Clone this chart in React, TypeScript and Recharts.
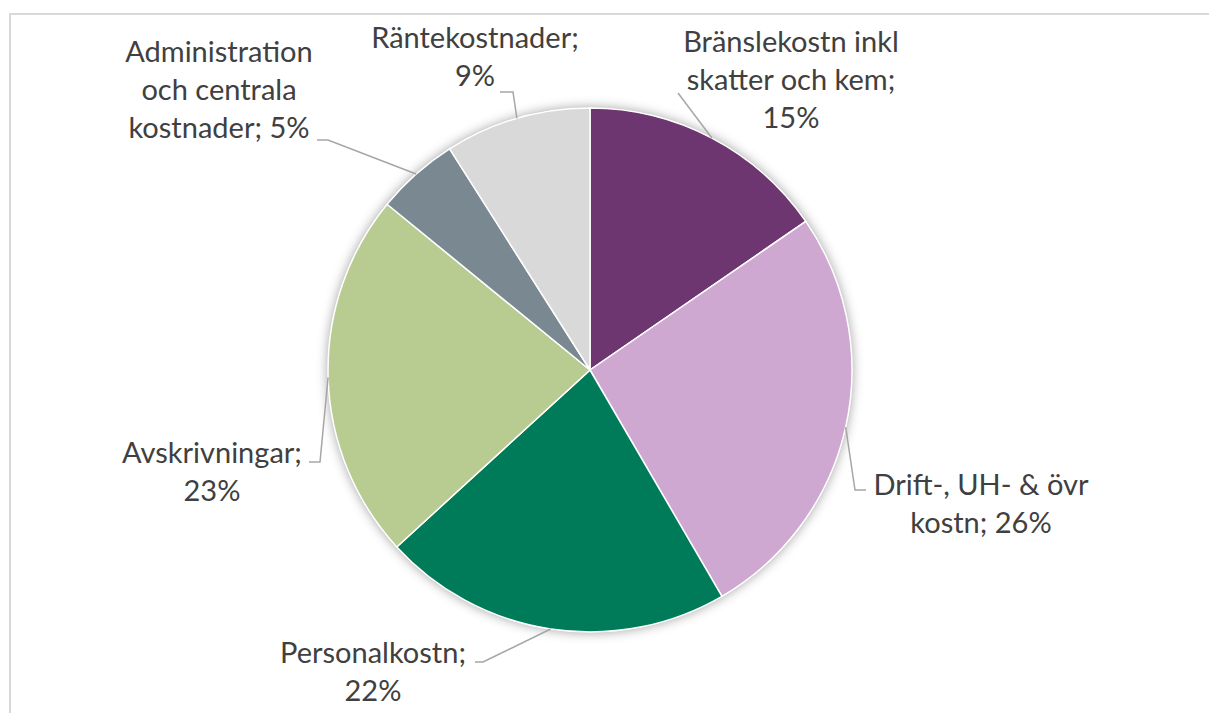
import React from "react";
import { PieChart, Pie, Cell } from "recharts";

const categories = [
  "Bränslekostn inkl skatter och kem",
  "Drift-, UH- & övr kostn",
  "Personalkostn",
  "Avskrivningar",
  "Administration och centrala kostnader",
  "Räntekostnader",
];
const shares = [15.4, 26.2, 21.6, 22.7, 5.1, 9.0];
const colors = ["#6E3670", "#CFA8D2", "#007B59", "#B8CC92", "#7A8891", "#D9D9D9"];

// words per wrapped label line
const lineBreaks = [[2, 3, 1], [4, 2], [1, 1], [1, 1], [1, 2, 2], [1, 1]];

// label layout, offsets from pie centre (leader starts at slice edge midpoint)
const labelLayout = [
  { leader: [[88, -277]], tx: 201, ty: -318 },
  { leader: [[265, 120], [276, 120]], tx: 391, ty: 125 },
  { leader: [[-107, 292], [-115, 292]], tx: -217, ty: 293 },
  { leader: [[-270, 92], [-281, 92]], tx: -378, ty: 93 },
  { leader: [[-262, -230], [-273, -230]], tx: -371, ty: -308 },
  { leader: [[-77, -278], [-90, -278]], tx: -115, ty: -322 },
];

const data = categories.map((name, i) => ({ name, value: shares[i] }));

const RAD = Math.PI / 180;
const LINE_H = 38;

const renderLabel = (props: any) => {
  const { cx, cy, midAngle, outerRadius, index } = props;
  const ex = cx + outerRadius * Math.cos(-midAngle * RAD);
  const ey = cy + outerRadius * Math.sin(-midAngle * RAD);
  const lay = labelLayout[index];
  const pts = [[ex, ey], ...lay.leader.map(([x, y]) => [cx + x, cy + y])];
  const words = `${categories[index]}; ${Math.round(shares[index])}%`.split(" ");
  const lines: string[] = [];
  let k = 0;
  for (const n of lineBreaks[index]) {
    lines.push(words.slice(k, k + n).join(" "));
    k += n;
  }
  const tx = cx + lay.tx;
  const ty = cy + lay.ty;
  return (
    <g key={`lbl-${index}`}>
      <polyline
        points={pts.map((p) => p.join(",")).join(" ")}
        fill="none"
        stroke="#A6A6A6"
        strokeWidth={1.5}
      />
      <text
        x={tx}
        y={ty}
        textAnchor="middle"
        fill="#404040"
        fontFamily="Lato, 'Open Sans', sans-serif"
        fontSize={29}
      >
        {lines.map((l, i) => (
          <tspan key={i} x={tx} dy={i === 0 ? 0 : LINE_H}>
            {l}
          </tspan>
        ))}
      </text>
    </g>
  );
};

export default function App() {
  return (
    <div
      style={{
        position: "absolute",
        left: 0,
        top: 0,
        width: 1209,
        height: 713,
        background: "#fff",
        overflow: "hidden",
      }}
    >
      <div
        style={{
          position: "absolute",
          left: 9,
          top: 13,
          width: 1240,
          height: 740,
          border: "2px solid #D9D9D9",
        }}
      />
      <div style={{ position: "absolute", left: 0, top: 0 }}>
        <PieChart width={1209} height={713} margin={{ top: 0, right: 0, bottom: 0, left: 0 }}>
          <defs>
            <filter id="pieShadow" x="-20%" y="-20%" width="140%" height="140%">
              <feDropShadow dx="0" dy="0" stdDeviation="6" floodColor="#000" floodOpacity="0.4" />
            </filter>
          </defs>
          <Pie
            data={[{ name: "bg", value: 1 }]}
            dataKey="value"
            cx={590}
            cy={370}
            outerRadius={262}
            startAngle={90}
            endAngle={-270}
            stroke="none"
            isAnimationActive={false}
            label={false}
            labelLine={false}
          >
            <Cell fill="#fff" filter="url(#pieShadow)" />
          </Pie>
          <Pie
            data={data}
            dataKey="value"
            nameKey="name"
            cx={590}
            cy={370}
            outerRadius={262}
            startAngle={90}
            endAngle={-270}
            stroke="#fff"
            strokeWidth={1.5}
            isAnimationActive={false}
            label={renderLabel}
            labelLine={false}
          >
            {data.map((d, i) => (
              <Cell key={d.name} fill={colors[i]} />
            ))}
          </Pie>
        </PieChart>
      </div>
    </div>
  );
}
